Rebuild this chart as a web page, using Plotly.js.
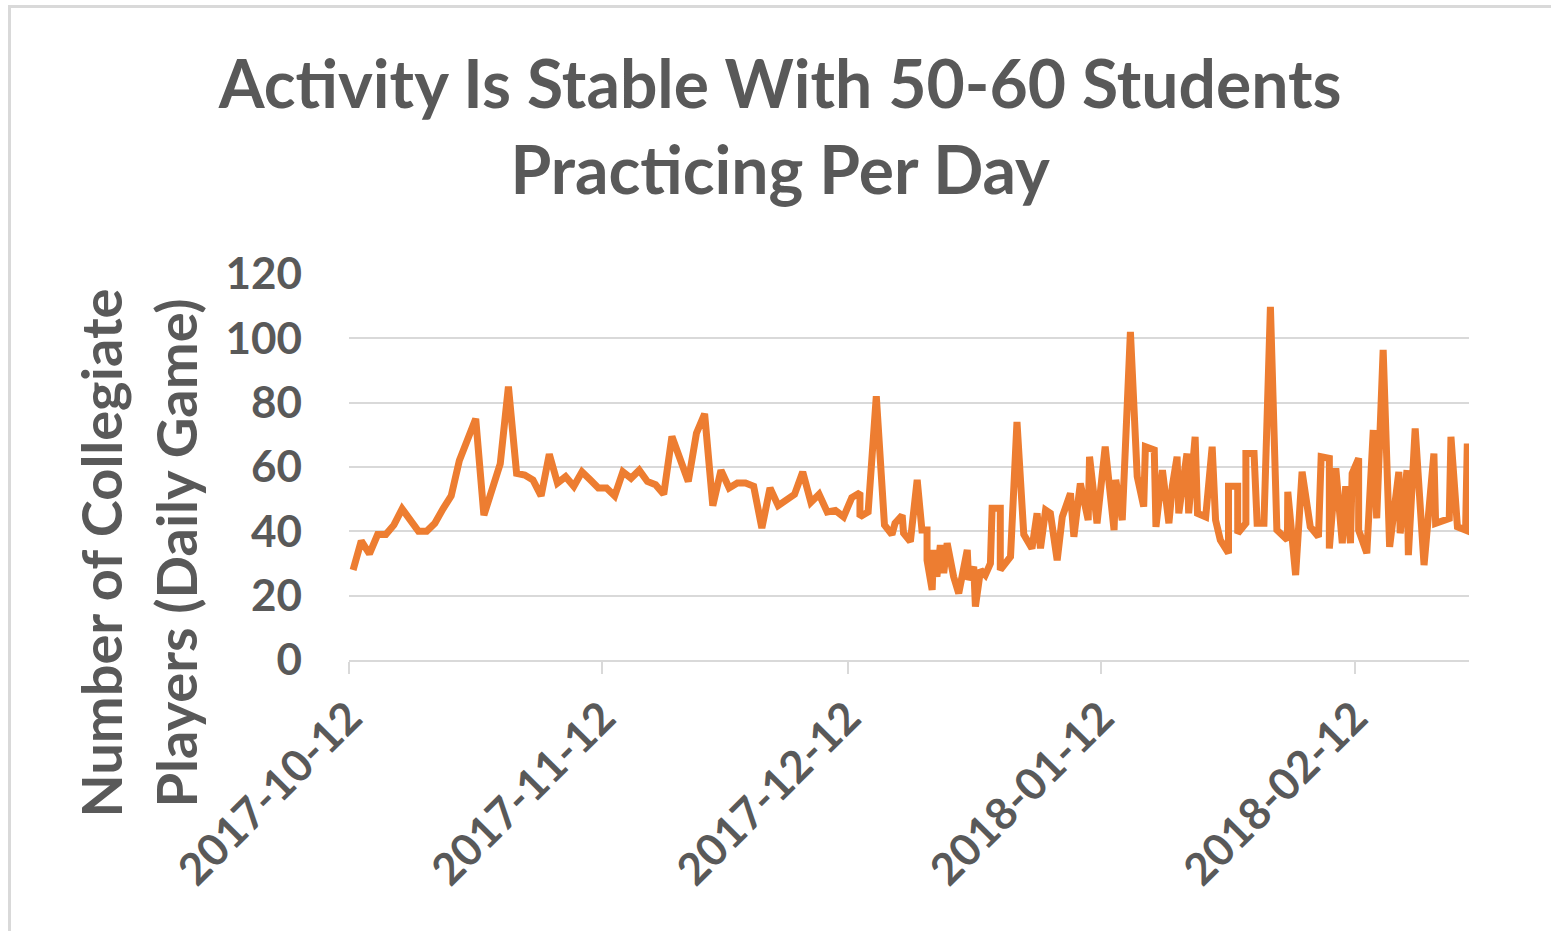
<!DOCTYPE html>
<html>
<head>
<meta charset="utf-8">
<script src="https://cdn.plot.ly/plotly-3.0.1.min.js"></script>
<style>
  html, body { margin: 0; padding: 0; background: #ffffff; }
  #wrap { position: relative; width: 1551px; height: 931px; overflow: hidden; }
  #chart { position: absolute; left: 0; top: 0; width: 1551px; height: 931px; }
  #frame { position: absolute; left: 8px; top: 5px; width: 1560px; height: 960px;
           border: 3px solid #d9d9d9; box-sizing: border-box; pointer-events: none; }
</style>
</head>
<body>
<div id="wrap">
  <div id="chart"></div>
  <div id="frame"></div>
</div>
<script>
// ---- data ----
const dates = [
  "2017-10-12 12:00","2017-10-13 12:00","2017-10-14 12:00","2017-10-15 12:00","2017-10-16 12:00",
  "2017-10-17 12:00","2017-10-18 12:00","2017-10-19 12:00","2017-10-20 12:00","2017-10-21 12:00",
  "2017-10-22 12:00","2017-10-23 12:00","2017-10-24 12:00","2017-10-25 12:00","2017-10-26 12:00",
  "2017-10-27 12:00","2017-10-28 12:00","2017-10-29 12:00","2017-10-30 12:00","2017-10-31 12:00",
  "2017-11-01 12:00","2017-11-02 12:00","2017-11-03 12:00","2017-11-04 12:00","2017-11-05 12:00",
  "2017-11-06 12:00","2017-11-07 12:00","2017-11-08 12:00","2017-11-09 12:00","2017-11-10 12:00",
  "2017-11-11 12:00","2017-11-12 12:00","2017-11-13 12:00","2017-11-14 12:00","2017-11-15 12:00",
  "2017-11-16 12:00","2017-11-17 12:00","2017-11-18 12:00","2017-11-19 12:00","2017-11-20 12:00",
  "2017-11-21 12:00","2017-11-22 12:00","2017-11-23 12:00","2017-11-24 12:00","2017-11-25 12:00",
  "2017-11-26 12:00","2017-11-27 12:00","2017-11-28 12:00","2017-11-29 12:00","2017-11-30 12:00",
  "2017-12-01 12:00","2017-12-02 12:00","2017-12-03 12:00","2017-12-04 12:00","2017-12-05 12:00",
  "2017-12-06 12:00","2017-12-07 12:00","2017-12-08 12:00","2017-12-09 12:00","2017-12-10 12:00",
  "2017-12-11 12:00","2017-12-12 12:00","2017-12-13 12:00","2017-12-13 12:00","2017-12-14 12:00",
  "2017-12-15 12:00","2017-12-16 12:00","2017-12-17 10:00","2017-12-17 19:00","2017-12-18 16:00",
  "2017-12-18 20:00","2017-12-19 16:00","2017-12-20 12:00","2017-12-21 02:00","2017-12-21 17:00",
  "2017-12-21 17:00","2017-12-22 08:00","2017-12-22 12:00","2017-12-22 22:00","2017-12-23 08:00",
  "2017-12-23 18:00","2017-12-24 04:00","2017-12-24 23:00","2017-12-25 14:00","2017-12-26 15:00",
  "2017-12-26 19:00","2017-12-27 10:00","2017-12-27 15:00","2017-12-28 06:00","2017-12-28 20:00",
  "2017-12-29 11:00","2017-12-29 16:00","2017-12-30 16:00","2017-12-30 16:00","2017-12-31 22:00",
  "2018-01-01 17:00","2018-01-02 13:00","2018-01-03 13:00","2018-01-04 04:00","2018-01-04 14:00",
  "2018-01-05 05:00","2018-01-05 19:00","2018-01-06 15:00","2018-01-07 06:00","2018-01-08 06:00",
  "2018-01-08 16:00","2018-01-09 11:00","2018-01-10 10:00","2018-01-10 14:00","2018-01-11 12:00",
  "2018-01-12 12:00","2018-01-13 14:00","2018-01-13 19:00","2018-01-14 14:00","2018-01-14 19:00",
  "2018-01-15 14:00","2018-01-16 10:00","2018-01-17 05:00","2018-01-17 10:00","2018-01-18 12:00",
  "2018-01-18 17:00","2018-01-19 12:00","2018-01-20 07:00","2018-01-20 17:00","2018-01-21 07:00",
  "2018-01-21 12:00","2018-01-22 12:00","2018-01-22 17:00","2018-01-23 12:00","2018-01-23 19:00",
  "2018-01-24 19:00","2018-01-25 14:00","2018-01-26 00:00","2018-01-26 14:00","2018-01-27 14:00",
  "2018-01-27 14:00","2018-01-28 17:00","2018-01-28 17:00","2018-01-29 17:00","2018-01-29 17:00",
  "2018-01-30 17:00","2018-01-31 02:00","2018-01-31 22:00","2018-02-01 17:00","2018-02-02 12:00",
  "2018-02-03 19:00","2018-02-03 20:00","2018-02-04 19:00","2018-02-05 14:00","2018-02-06 14:00",
  "2018-02-07 14:00","2018-02-07 22:00","2018-02-08 22:00","2018-02-08 22:00","2018-02-09 17:00",
  "2018-02-10 12:00","2018-02-10 22:00","2018-02-11 12:00","2018-02-11 17:00","2018-02-12 12:00",
  "2018-02-12 12:00","2018-02-13 12:00","2018-02-14 07:00","2018-02-14 17:00","2018-02-15 12:00",
  "2018-02-16 07:00","2018-02-17 10:00","2018-02-17 14:00","2018-02-18 10:00","2018-02-18 14:00",
  "2018-02-19 10:00","2018-02-20 12:00","2018-02-21 17:00","2018-02-21 22:00","2018-02-23 14:00",
  "2018-02-23 19:00","2018-02-24 14:00","2018-02-25 14:00","2018-02-25 19:00"
];
const players = [
  28, 37, 33, 39, 39,
  42, 47, 43, 40, 40,
  42.5, 47, 51, 62, 68,
  75, 45, 53, 61, 85,
  58, 57.5, 56, 51, 64,
  55, 57, 54, 58.5, 56,
  53.5, 53.5, 51, 58.5, 56.5,
  59, 55.5, 54.5, 51.5, 69.5,
  62, 55.5, 70.5, 76.5, 48,
  59, 53.5, 55, 55, 54,
  41, 53.5, 48, 50, 51.5,
  58.5, 49, 51.5, 46, 46.5,
  44.5, 50.5, 52, 44.5, 46,
  82, 42, 39, 42.5, 45,
  39.4, 36.8, 56, 40.4, 40.4,
  31, 21.8, 34.2, 25.9, 35.7,
  27, 36.3, 25.9, 20.7, 34.2,
  24.9, 29, 16.6, 28, 26.4,
  30, 47.2, 47.2, 28, 32.1,
  74, 39, 34.7, 45.6, 34.7,
  46.6, 45.6, 31, 44.5, 51.8,
  38.3, 54.9, 43.5, 63.2, 42.5,
  66.3, 40.4, 56, 43.5, 56,
  102, 57, 47.7, 66.3, 65.3,
  41.4, 59, 42.5, 54, 63.2,
  45.6, 64.2, 45.6, 69.4, 45.6,
  44.5, 66.3, 43.5, 37.3, 33.2,
  54, 54, 39.4, 42.5, 64.2,
  64.2, 42.5, 42.5, 109.8, 40.4,
  37.3, 52.3, 26.4, 58.5, 41.4,
  38.3, 63.2, 62.7, 34.7, 59.6,
  36.3, 54, 36.3, 58, 62.7,
  40.4, 33.2, 71.5, 44, 96.4,
  35.2, 58.5, 39.4, 59, 32.6,
  72, 29.5, 64.2, 42.5, 44,
  69.4, 41.4, 40.4, 67.3
];
const xTickVals = ["2017-10-12", "2017-11-12", "2017-12-12", "2018-01-12", "2018-02-12"];
const xTickText = ["2017-10-12", "2017-11-12", "2017-12-12", "2018-01-12", "2018-02-12"];
const xRange = ["2017-10-12", "2018-02-26"];
const yTickVals = [0, 20, 40, 60, 80, 100, 120];
const titleText = "Activity Is Stable With 50-60 Students<br>Practicing Per Day";
const yTitleLines = ["Number of Collegiate", "Players (Daily Game)"];

// ---- chart ----
const FONT = "Lato, 'Open Sans', sans-serif";
const GREY = "#595959";

const trace = {
  type: "scatter",
  mode: "lines",
  x: dates,
  y: players,
  line: { color: "#ED7D31", width: 7, shape: "linear" },
  hoverinfo: "x+y",
  showlegend: false
};

const layout = {
  width: 1551,
  height: 931,
  paper_bgcolor: "#ffffff",
  plot_bgcolor: "#ffffff",
  margin: { l: 349, r: 82, t: 274, b: 271, pad: 0 },
  font: { family: FONT, color: GREY },
  title: {
    text: titleText,
    font: { family: FONT, size: 66, color: GREY, weight: "bold" },
    x: 0.503,
    xref: "container",
    xanchor: "center",
    y: 0.884,
    yref: "container",
    yanchor: "middle"
  },
  xaxis: {
    type: "date",
    range: xRange,
    tickmode: "array",
    tickvals: xTickVals,
    ticktext: xTickText,
    tickangle: -45,
    tickfont: { family: FONT, size: 44, color: GREY, weight: "bold" },
    ticks: "outside",
    ticklen: 12,
    tickwidth: 2,
    tickcolor: "#d9d9d9",
    showgrid: false,
    showline: true,
    linecolor: "#d9d9d9",
    linewidth: 2,
    zeroline: false,
    fixedrange: true
  },
  yaxis: {
    range: [0, 120],
    tickmode: "array",
    tickvals: yTickVals,
    tickfont: { family: FONT, size: 44, color: GREY, weight: "bold" },
    ticks: "",
    ticklabelstandoff: 46,
    showgrid: true,
    gridcolor: "#d9d9d9",
    gridwidth: 2,
    showline: false,
    zeroline: false,
    fixedrange: true
  },
  annotations: [
    {
      text: yTitleLines[0],
      xref: "paper", yref: "paper",
      x: -0.222, y: 0.277,
      xanchor: "center", yanchor: "middle",
      textangle: -90,
      showarrow: false,
      font: { family: FONT, size: 56, color: GREY, weight: "bold" }
    },
    {
      text: yTitleLines[1],
      xref: "paper", yref: "paper",
      x: -0.155, y: 0.277,
      xanchor: "center", yanchor: "middle",
      textangle: -90,
      showarrow: false,
      font: { family: FONT, size: 56, color: GREY, weight: "bold" }
    }
  ]
};

Plotly.newPlot("chart", [trace], layout, { displayModeBar: false, staticPlot: false });
</script>
</body>
</html>
